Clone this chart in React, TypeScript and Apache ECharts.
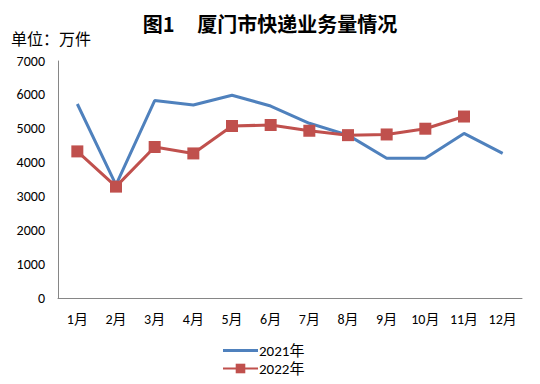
import React, { useEffect, useRef } from "react";
import * as echarts from "echarts";

const categories = ["1月", "2月", "3月", "4月", "5月", "6月", "7月", "8月", "9月", "10月", "11月", "12月"];
const series2021 = [5730, 3340, 5830, 5700, 5990, 5670, 5160, 4810, 4130, 4130, 4860, 4270];
const series2022 = [4330, 3290, 4460, 4270, 5080, 5110, 4940, 4810, 4830, 5000, 5360];
const yTicks = { min: 0, max: 7000, interval: 1000 };

const latin = "Carlito, 'Liberation Sans', 'Noto Sans CJK SC', sans-serif";
const cjk = "'Noto Sans CJK SC', sans-serif";

export default function App() {
  const ref = useRef<HTMLDivElement>(null);
  useEffect(() => {
    if (!ref.current) return;
    const chart = echarts.init(ref.current, undefined, { renderer: "svg" });
    chart.setOption({
      animation: false,
      backgroundColor: "#ffffff",
      title: {
        text: "图1\u00a0\u00a0\u00a0\u00a0\u00a0厦门市快递业务量情况",
        left: "center",
        top: 8,
        textStyle: { fontSize: 20, fontWeight: "bold", color: "#000", fontFamily: cjk },
      },
      graphic: [
        {
          type: "text",
          left: 11,
          top: 30,
          style: { text: "单位：万件", fontSize: 16, fill: "#000", fontFamily: cjk },
        },
      ],
      legend: {
        orient: "vertical",
        left: 217,
        top: 338,
        itemWidth: 35,
        itemHeight: 12,
        itemGap: 3,
        textStyle: { fontSize: 15, color: "#000", fontFamily: latin, padding: [0, 0, 0, -4] },
        data: [
          { name: "2021年", icon: "path://M0,0 L35,0 L35,3 L0,3 Z" },
          { name: "2022年" },
        ],
      },
      grid: { left: 58, right: 18, top: 61, bottom: 86 },
      xAxis: {
        type: "category",
        data: categories,
        boundaryGap: true,
        axisLine: { lineStyle: { color: "#868686", width: 1 } },
        axisTick: { show: false },
        axisLabel: { fontSize: 14, color: "#000", margin: 14, fontFamily: latin },
      },
      yAxis: {
        type: "value",
        min: yTicks.min,
        max: yTicks.max,
        interval: yTicks.interval,
        axisLine: { show: true, lineStyle: { color: "#868686", width: 1 } },
        axisTick: { show: false },
        splitLine: { show: false },
        axisLabel: {
          fontSize: 14,
          color: "#000",
          margin: 13,
          fontFamily: latin,
          formatter: (v: number) => String(v),
        },
      },
      series: [
        {
          name: "2021年",
          type: "line",
          data: series2021,
          symbol: "none",
          lineStyle: { color: "#4F81BD", width: 3 },
          itemStyle: { color: "#4F81BD" },
        },
        {
          name: "2022年",
          type: "line",
          data: series2022,
          symbol: "rect",
          symbolSize: 12,
          lineStyle: { color: "#C0504D", width: 3 },
          itemStyle: { color: "#C0504D" },
          z: 3,
        },
      ],
    });
    return () => chart.dispose();
  }, []);
  return <div ref={ref} style={{ width: 540, height: 384, margin: -8 }} />;
}
